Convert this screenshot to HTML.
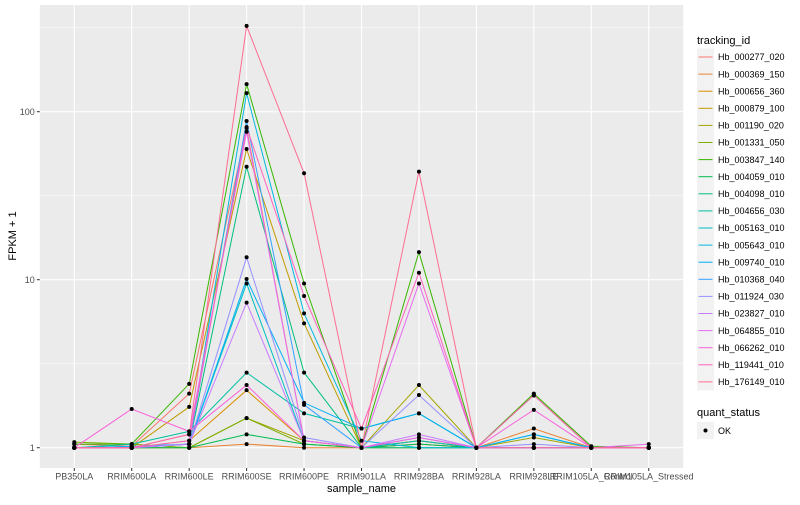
<!DOCTYPE html>
<html><head><meta charset="utf-8"><style>
body{margin:0;background:#fff;font-family:"Liberation Sans",sans-serif}
svg text{font-family:"Liberation Sans",sans-serif}
</style></head><body>
<svg id="chart" width="800" height="500"></svg>
<script>
const categories=["PB350LA","RRIM600LA","RRIM600LE","RRIM600SE","RRIM600PE","RRIM901LA","RRIM928BA","RRIM928LA","RRIM928LE","RRIM105LA_Control","RRIM105LA_Stressed"];
const seriesNames=["Hb_000277_020","Hb_000369_150","Hb_000656_360","Hb_000879_100","Hb_001190_020","Hb_001331_050","Hb_003847_140","Hb_004059_010","Hb_004098_010","Hb_004656_030","Hb_005163_010","Hb_005643_010","Hb_009740_010","Hb_010368_040","Hb_011924_030","Hb_023827_010","Hb_064855_010","Hb_066262_010","Hb_119441_010","Hb_176149_010"];
const seriesColors=["#F8766D","#EA8331","#D89000","#C09B00","#A3A500","#7CAE00","#39B600","#00BB4E","#00BF7D","#00C1A3","#00BFC4","#00BAE0","#00B0F6","#35A2FF","#9590FF","#C77CFF","#E76BF3","#FA62DB","#FF62BC","#FF6C91"];
const s0=[1.05,1.02,2.1,80,1.1,1,1.1,1,1,1,1];
const s1=[1,1,1,1.05,1,1,1.05,1,1.3,1,1];
const s2=[1,1,1.1,2.2,1.1,1,1.1,1,1,1,1];
const s3=[1,1,1.75,60,5.5,1,1.1,1,1,1,1];
const s4=[1,1,1,1.5,1.1,1,2.36,1,1.15,1,1];
const s5=[1.08,1.05,1,1.5,1.05,1,1,1,2.05,1,1];
const s6=[1.05,1.05,2.4,146,9.5,1,14.6,1,2.1,1.02,1];
const s7=[1,1,1,1.2,1.05,1,1.05,1,1,1,1];
const s8=[1,1,1.05,47,2.8,1,1,1,1,1,1];
const s9=[1,1.05,1.25,2.8,1.6,1.3,1.6,1,1,1,1];
const s10=[1,1,1.05,9.5,1.1,1,1.1,1,1,1,1];
const s11=[1,1,1.05,129,6.3,1.1,1,1,1.2,1,1];
const s12=[1,1.02,1.05,10.1,1.85,1.3,1.6,1,1.2,1,1];
const s13=[1,1,1.05,88,1.8,1,1.15,1,1,1,1];
const s14=[1,1,1.05,13.6,1.15,1,2.06,1,1.05,1,1];
const s15=[1,1,1.05,7.3,1.1,1,1.2,1,1,1,1];
const s16=[1,1,1.2,76,1.1,1,9.5,1,1,1,1.05];
const s17=[1,1.7,1.25,2.36,1.1,1,1.15,1,1.68,1,1];
const s18=[1,1,1.1,81,8,1.3,11,1,2.05,1,1];
const s19=[1,1,1.2,324,43,1,44,1,1,1,1];
const seriesValues=[s0,s1,s2,s3,s4,s5,s6,s7,s8,s9,s10,s11,s12,s13,s14,s15,s16,s17,s18,s19];
const yTicks=[1,10,100];
const yMinor=[Math.sqrt(10),Math.sqrt(1000),Math.sqrt(100000)];

const NS="http://www.w3.org/2000/svg";
const svg=document.getElementById("chart");
const P={l:39.8,r:683.2,t:5,b:468};
const step=(P.r-P.l)/(categories.length-1+1.2);
function xPos(i){return P.l+step*(0.6+i);}
function yPos(v){return 447.7-168*Math.log10(v);}
function mk(tag,attrs,parent){const e=document.createElementNS(NS,tag);for(const k in attrs)e.setAttribute(k,attrs[k]);(parent||svg).appendChild(e);return e;}

const panel=mk("rect",{x:P.l,y:P.t,width:P.r-P.l,height:P.b-P.t,fill:"#EBEBEB"});


yMinor.forEach(v=>{const y=yPos(v);if(y>P.t)mk("line",{x1:P.l,x2:P.r,y1:y,y2:y,stroke:"#fff","stroke-width":0.5});});
yTicks.forEach(v=>{const y=yPos(v);
 const g=mk("line",{x1:P.l,x2:P.r,y1:y,y2:y,stroke:"#fff","stroke-width":1.1});
 
 
 mk("line",{x1:P.l-3,x2:P.l,y1:y,y2:y,stroke:"#333","stroke-width":1});
 const t=mk("text",{x:P.l-5,y:y+3.5,"text-anchor":"end","font-size":"9px",fill:"#4d4d4d"});t.textContent=v;
 
 
});
categories.forEach((c,i)=>{const x=xPos(i);
 mk("line",{x1:x,x2:x,y1:P.t,y2:P.b,stroke:"#fff","stroke-width":1.1});
 mk("line",{x1:x,x2:x,y1:P.b,y2:P.b+3,stroke:"#333","stroke-width":1});
 const t=mk("text",{x:x,y:P.b+11.5,"text-anchor":"middle","font-size":"9px",fill:"#4d4d4d"});t.textContent=c;
 
 
});
seriesValues.forEach((vals,si)=>{
 const pts=vals.map((v,i)=>xPos(i).toFixed(1)+","+yPos(v).toFixed(1)).join(" ");
 const pl=mk("polyline",{points:pts,fill:"none",stroke:seriesColors[si],"stroke-width":1});
 
 
});
seriesValues.forEach((vals,si)=>{vals.forEach((v,i)=>{
 const c=mk("circle",{cx:xPos(i),cy:yPos(v),r:2,fill:"#000"});
 
 
});});
const yt=mk("text",{x:0,y:0,transform:"translate(16,236) rotate(-90)","text-anchor":"middle","font-size":"11px",fill:"#000"});yt.textContent="FPKM + 1";


const xt=mk("text",{x:(P.l+P.r)/2,y:492,"text-anchor":"middle","font-size":"11px",fill:"#000"});xt.textContent="sample_name";



const lt=mk("text",{x:697,y:44,"font-size":"11px",fill:"#000"});lt.textContent="tracking_id";


seriesNames.forEach((n,i)=>{const y=57+i*17.1;
 const g=mk("g",{});
 
 
 mk("rect",{x:697,y:y-8.5,width:17,height:17,fill:"#F2F2F2"},g);
 mk("line",{x1:698.5,x2:712.5,y1:y,y2:y,stroke:seriesColors[i],"stroke-width":1},g);
 const t=mk("text",{x:718,y:y+3.2,"font-size":"9px",fill:"#000"},g);t.textContent=n;
});
const qt=mk("text",{x:697,y:416,"font-size":"11px",fill:"#000"});qt.textContent="quant_status";


const qg=mk("g",{});


mk("rect",{x:697,y:422,width:17,height:17,fill:"#F2F2F2"},qg);
mk("circle",{cx:705.5,cy:430.5,r:2,fill:"#000"},qg);
const okt=mk("text",{x:718,y:434,"font-size":"9px",fill:"#000"},qg);okt.textContent="OK";
</script>
</body></html>
